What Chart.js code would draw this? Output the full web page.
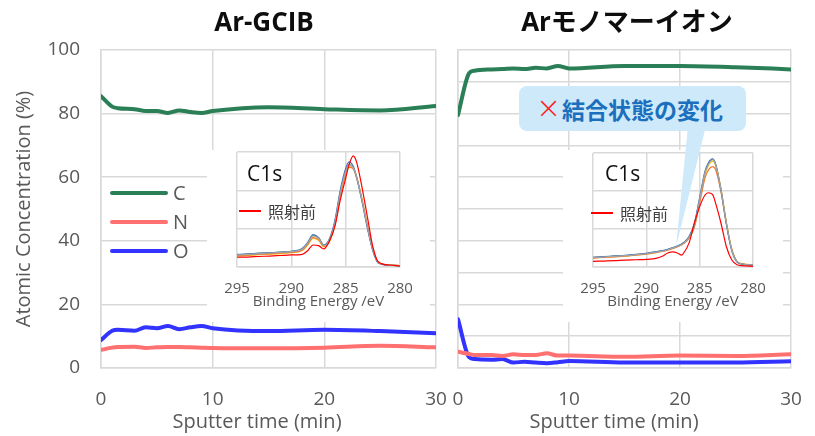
<!DOCTYPE html>
<html>
<head>
<meta charset="utf-8">
<script src="https://cdn.jsdelivr.net/npm/chart.js@4.4.0/dist/chart.umd.min.js"></script>
<style>
  body { margin: 0; background: #fff; }
  #wrap { position: relative; width: 815px; height: 436px; overflow: hidden; background: #fff; font-family: "Open Sans", "Noto Sans CJK JP", sans-serif; }
  canvas { position: absolute; }
  .txt { position: absolute; white-space: nowrap; line-height: 1; }
  .title { font-weight: bold; font-size: 26px; color: #0d0d0d; transform: translate(-50%, -50%); font-family: "Open Sans", "Noto Sans CJK JP", sans-serif; }
  .xtitle { font-size: 20px; color: #595959; transform: translate(-50%, -50%); }
  .leg { position: absolute; height: 4px; border-radius: 2px; }
  .legtxt { font-size: 20px; color: #595959; transform: translateY(-50%); }
  .c1s { font-size: 21px; color: #111; transform: translateY(-50%); }
  .before { font-size: 16px; color: #404040; transform: translateY(-50%); font-family: "Noto Sans CJK JP", sans-serif; }
  .redline { position: absolute; height: 1.5px; background: #ff0000; }
  #callout { position: absolute; left: 519px; top: 86px; width: 227px; height: 45px; background: #cde9fa; border-radius: 8px; }
  #pointer { position: absolute; left: 670px; top: 126px; width: 40px; height: 124px; background: #cde9fa;
             clip-path: polygon(18px 0, 36px 0, 6px 121px); }
  .cross { font-size: 30px; color: #ff1a1a; transform: translateY(-50%); font-family: "DejaVu Sans", sans-serif; font-weight: 200; }
  .change { font-size: 23px; font-weight: bold; color: #1b6fbd; transform: translateY(-50%); font-family: "Noto Sans CJK JP", sans-serif; }
</style>
</head>
<body>
<div id="wrap">
  <canvas id="gcib" width="450" height="436" style="left:0;top:0"></canvas>
  <canvas id="mono" width="375" height="436" style="left:440px;top:0"></canvas>

  <div class="txt title" style="left:264px;top:21px">Ar-GCIB</div>
  <div class="txt title" style="left:627px;top:21px">Arモノマーイオン</div>
  <div class="txt xtitle" style="left:257px;top:421px">Sputter time (min)</div>
  <div class="txt xtitle" style="left:614px;top:421px">Sputter time (min)</div>

  <div class="leg" style="left:110px;top:191px;width:58px;background:#2a7f56"></div>
  <div class="txt legtxt" style="left:173px;top:193px">C</div>
  <div class="leg" style="left:110px;top:220px;width:58px;background:#ff7070"></div>
  <div class="txt legtxt" style="left:173px;top:222px">N</div>
  <div class="leg" style="left:110px;top:249px;width:58px;background:#3333ff"></div>
  <div class="txt legtxt" style="left:173px;top:251px">O</div>

  <canvas id="insetG" width="223" height="172" style="left:207px;top:150px;background:#fff"></canvas>
  <canvas id="insetM" width="220" height="172" style="left:563px;top:150px;background:#fff"></canvas>

  <div class="txt c1s" style="left:247px;top:173px">C1s</div>
  <div class="redline" style="left:239px;top:210px;width:22px"></div>
  <div class="txt before" style="left:268px;top:211px">照射前</div>

  <div class="txt c1s" style="left:605px;top:173px">C1s</div>
  <div class="redline" style="left:591px;top:212px;width:22px"></div>
  <div class="txt before" style="left:620px;top:213px">照射前</div>

  <div id="pointer"></div>
  <div id="callout"></div>
  <div class="txt cross" style="left:536px;top:108px">×</div>
  <div class="txt change" style="left:562px;top:109px">結合状態の変化</div>
</div>

<script>
// depth profiles (atomic %), Ar-GCIB
const timeGCIB = [0, 1, 1.5, 3, 4, 5, 6, 7, 8, 9, 10, 15, 20, 25, 30];
const carbonGCIB = [85.5, 82.2, 81.7, 81.4, 80.8, 80.8, 80.2, 81.0, 80.5, 80.2, 80.8, 82.0, 81.4, 81.0, 82.4];
const nitrogenGCIB = [5.7, 6.4, 6.6, 6.7, 6.3, 6.5, 6.6, 6.6, 6.5, 6.4, 6.3, 6.2, 6.4, 7.0, 6.5];
const oxygenGCIB = [8.8, 11.7, 12.0, 11.7, 12.8, 12.5, 13.2, 12.2, 12.8, 13.2, 12.5, 11.6, 12.0, 11.6, 10.9];

// depth profiles, Ar monomer ion
const timeMono = [0, 1, 1.5, 3, 4, 5, 6, 7, 8, 9, 10, 15, 20, 25, 30];
const carbonMono = [79.6, 92.7, 93.5, 93.9, 94.0, 94.2, 94.0, 94.4, 94.2, 95.0, 94.2, 95.0, 95.0, 94.6, 93.9];
const nitrogenMono = [5.1, 4.4, 4.1, 4.1, 3.8, 4.3, 4.1, 4.1, 4.6, 3.9, 3.9, 3.5, 3.9, 3.8, 4.3];
const oxygenMono = [15.3, 3.4, 2.8, 2.6, 2.8, 1.7, 2.0, 1.7, 1.5, 1.8, 2.2, 1.7, 1.7, 1.7, 2.1];

const timeTicks = [0, 10, 20, 30];

// C1s spectra (binding energy eV, arb. intensity)
const energyGCIB = [295, 294, 293, 292, 291, 290, 289, 288.5, 288, 287.5, 287, 286.5, 286, 285.5, 285, 284.7, 284.3, 284, 283.5, 283, 282.5, 282, 281, 280];
const beforeGCIB = [8.9, 9.1, 9.6, 10.0, 10.5, 11.0, 11.6, 14.9, 20.1, 19.5, 16.6, 23.5, 36.8, 61, 81, 93, 101.5, 96, 73, 45.7, 18.5, 4.8, 1.8, 0.9];
const grayGCIB = [11.0, 11.5, 12.2, 12.8, 13.3, 14.0, 16.2, 21.6, 28.3, 26.2, 19.5, 24.6, 40, 67.5, 87, 93.5, 90.5, 82.4, 61.2, 36.8, 15.5, 3.9, 1.8, 1.2];
const blueGCIB = [11.5, 12.0, 12.6, 13.1, 13.6, 14.4, 16.8, 22.4, 29.5, 27.0, 20.0, 25.5, 42, 70, 90, 96, 92, 82, 60, 35.5, 14.8, 3.6, 1.6, 1.1];
const orangeGCIB = [10.4, 10.9, 11.5, 12.0, 12.6, 13.3, 15.4, 20.4, 26.8, 25.0, 18.9, 23.6, 38.5, 65.5, 85, 91.5, 89.5, 81.5, 61.8, 37.5, 16.2, 4.2, 1.9, 1.2];
const yellowGCIB = [10.0, 10.6, 11.2, 11.8, 12.3, 13.0, 15.0, 20.0, 26.0, 24.4, 18.4, 23.0, 37.8, 64.5, 84.5, 91, 90, 82.5, 62.5, 38.0, 16.6, 4.4, 2.0, 1.3];
const greenGCIB = [11.2, 11.8, 12.4, 12.9, 13.5, 14.2, 16.5, 22.0, 28.8, 26.6, 19.8, 25.0, 41, 68.5, 88, 94, 91, 82.8, 61.5, 36.2, 15.2, 3.8, 1.7, 1.1];

const energyMono = [295, 294, 293, 292, 291, 290, 289, 288.5, 288, 287.5, 287, 286.7, 286.5, 286, 285.5, 285, 284.5, 284.2, 283.8, 283.5, 283, 282.5, 282, 281.5, 281, 280];
const beforeMono = [5.2, 5.5, 5.8, 6.4, 6.7, 7.0, 8.2, 9.9, 12.9, 14.0, 12.4, 10.9, 12.9, 22, 40.3, 55.6, 66.3, 68.4, 66.8, 58.6, 40.3, 18.9, 6.7, 2.1, 1.2, 0.6];
const grayMono = [8.6, 9.2, 9.8, 10.4, 11.3, 12.2, 13.8, 14.7, 15.9, 17.4, 19.3, 20.8, 22.0, 27, 38, 62, 86.6, 94, 98.8, 94.2, 71.2, 40.6, 16.1, 4.9, 2.8, 1.8];
const blueMono = [9.0, 9.6, 10.2, 10.8, 11.7, 12.6, 14.2, 15.1, 16.3, 17.8, 19.7, 21.2, 22.5, 28, 40, 64, 88, 95.5, 99.5, 94.5, 70.5, 39.5, 15.4, 4.6, 2.6, 1.7];
const orangeMono = [8.2, 8.8, 9.4, 10.0, 10.9, 11.8, 13.4, 14.3, 15.5, 17.0, 18.9, 20.4, 21.6, 26.5, 36.5, 59, 82, 89, 92.5, 89.5, 69, 40.2, 16.6, 5.2, 3.0, 1.9];
const yellowMono = [8.4, 9.0, 9.6, 10.2, 11.1, 12.0, 13.6, 14.5, 15.7, 17.2, 19.1, 20.6, 21.8, 26.8, 37.2, 60.5, 85, 93, 97.5, 93.5, 71.8, 41.2, 16.8, 5.1, 2.9, 1.9];
const greenMono = [8.8, 9.4, 10.0, 10.6, 11.5, 12.4, 14.0, 14.9, 16.1, 17.6, 19.5, 21.0, 22.3, 27.5, 39, 63, 87.5, 95, 99.2, 94.8, 71.6, 40.8, 15.8, 4.8, 2.7, 1.8];

const energyTicks = [280, 285, 290, 295];

const GRID = '#d9d9d9';
const LABEL = '#595959';
const FONT = '"Open Sans", "Noto Sans CJK JP", sans-serif';

function pairs(xs, ys) {
    return xs.map((x, i) => ({ x: x, y: ys[i] }));
}

function profileLine(xs, ys, color) {
    return {
        data: pairs(xs, ys),
        borderColor: color,
        borderWidth: 4,
        pointRadius: 0,
        borderCapStyle: 'round',
        borderJoinStyle: 'round',
        cubicInterpolationMode: 'monotone',
        fill: false
    };
}

function spectrumLine(xs, ys, color) {
    return {
        data: pairs(xs, ys),
        borderColor: color,
        borderWidth: 1.2,
        pointRadius: 0,
        cubicInterpolationMode: 'monotone',
        fill: false
    };
}

// fixed axis size, and don't let the end tick labels push the plot area in
function fixSize(size, horizontal) {
    return s => {
        if (horizontal) s.height = size; else s.width = size;
        s.paddingLeft = 0;
        s.paddingRight = 0;
    };
}

function profileChart(id, xs, c, n, o, showY, yStep, yWidth, padRight) {
    new Chart(document.getElementById(id), {
        type: 'line',
        data: {
            datasets: [
                profileLine(xs, c, '#2a7f56'),
                profileLine(xs, n, '#ff7070'),
                profileLine(xs, o, '#3333ff')
            ]
        },
        options: {
            responsive: false,
            animation: false,
            devicePixelRatio: 1,
            layout: { padding: { top: 50, right: padRight, left: 0, bottom: 0 } },
            plugins: { legend: { display: false }, tooltip: { enabled: false } },
            scales: {
                x: {
                    type: 'linear',
                    min: 0, max: 30,
                    afterBuildTicks: s => { s.ticks = timeTicks.map(v => ({ value: v })); },
                    afterFit: fixSize(68, true),
                    grid: { color: GRID, lineWidth: 1.5, drawTicks: false },
                    border: { color: GRID, width: 1.5 },
                    ticks: { color: LABEL, font: { family: FONT, size: 19 }, padding: 20, maxRotation: 0 }
                },
                y: {
                    min: 0, max: 100,
                    ticks: { stepSize: yStep, display: showY, color: LABEL, font: { family: FONT, size: 19 }, padding: 21 },
                    afterFit: fixSize(yWidth, false),
                    grid: { color: GRID, lineWidth: 1.5, drawTicks: false },
                    border: { color: GRID, width: 1.5 },
                    title: {
                        display: showY,
                        text: 'Atomic Concentration (%)',
                        color: LABEL,
                        font: { family: FONT, size: 20 },
                        padding: { top: 12, bottom: 0 }
                    }
                }
            }
        }
    });
}

function insetChart(id, xs, before, others, padTop, padRight) {
    const colors = ['#a5a5a5', '#4472c4', '#ed7d31', '#ffc000', '#70ad47'];
    const sets = [spectrumLine(xs, before, '#ff0000')];
    others.forEach((ys, i) => sets.push(spectrumLine(xs, ys, colors[i])));
    new Chart(document.getElementById(id), {
        type: 'line',
        data: { datasets: sets },
        options: {
            responsive: false,
            animation: false,
            devicePixelRatio: 1,
            layout: { padding: { top: padTop, right: padRight, left: 30, bottom: 0 } },
            plugins: { legend: { display: false }, tooltip: { enabled: false } },
            scales: {
                x: {
                    type: 'linear',
                    reverse: true,
                    min: 280, max: 295,
                    afterBuildTicks: s => { s.ticks = energyTicks.map(v => ({ value: v })); },
                    afterFit: fixSize(55, true),
                    grid: { color: GRID, lineWidth: 1.5, drawTicks: false },
                    border: { color: GRID, width: 1.5 },
                    ticks: { color: LABEL, font: { family: FONT, size: 15 }, padding: 13, maxRotation: 0 },
                    title: {
                        display: true,
                        text: 'Binding Energy /eV',
                        color: LABEL,
                        font: { family: FONT, size: 15 },
                        padding: { top: 0, bottom: 11 }
                    }
                },
                y: {
                    min: 0, max: 105,
                    ticks: { stepSize: 35, display: false },
                    afterFit: fixSize(0, false),
                    grid: { color: GRID, lineWidth: 1.5, drawTicks: false },
                    border: { display: false }
                }
            }
        }
    });
}

profileChart('gcib', timeGCIB, carbonGCIB, nitrogenGCIB, oxygenGCIB, true, 20, 101, 14);
profileChart('mono', timeMono, carbonMono, nitrogenMono, oxygenMono, false, 10, 18, 24);
insetChart('insetG', energyGCIB, beforeGCIB, [grayGCIB, blueGCIB, orangeGCIB, yellowGCIB, greenGCIB], 2, 30);
insetChart('insetM', energyMono, beforeMono, [grayMono, blueMono, orangeMono, yellowMono, greenMono], 3, 30);
</script>
</body>
</html>
